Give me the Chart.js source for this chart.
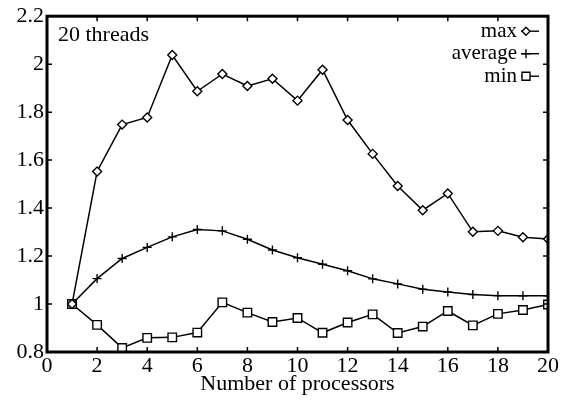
<!DOCTYPE html>
<html lang="en">
<head>
    <meta charset="UTF-8">
    <title>20 threads</title>
    <style>
        body { margin: 0; padding: 0; background: #fff; }
        #grafico { display: block; }
    </style>
</head>
<body>
    <canvas id="grafico" width="572" height="403"></canvas>

    <script src="https://cdn.jsdelivr.net/npm/chart.js"></script>
    <script>
        var processadores = [1, 2, 3, 4, 5, 6, 7, 8, 9, 10, 11, 12, 13, 14, 15, 16, 17, 18, 19, 20];
        var valoresMax = [1.0, 1.553, 1.748, 1.778, 2.038, 1.887, 1.959, 1.909, 1.939, 1.848, 1.977, 1.767, 1.626, 1.492, 1.391, 1.461, 1.301, 1.305, 1.278, 1.271];
        var valoresMedia = [1.0, 1.106, 1.19, 1.236, 1.28, 1.311, 1.305, 1.27, 1.225, 1.193, 1.166, 1.139, 1.105, 1.084, 1.062, 1.05, 1.04, 1.035, 1.034, 1.034];
        var valoresMin = [1.0, 0.913, 0.817, 0.859, 0.861, 0.881, 1.007, 0.964, 0.925, 0.942, 0.88, 0.923, 0.957, 0.879, 0.906, 0.971, 0.911, 0.959, 0.975, 0.998];
        var ticksX = [0, 2, 4, 6, 8, 10, 12, 14, 16, 18, 20];
        var ticksY = [0.8, 1, 1.2, 1.4, 1.6, 1.8, 2, 2.2];
        var nomesSeries = ['max', 'average', 'min'];
        var estilos = ['rectRot', 'cross', 'rect'];

        var fonte = "'Liberation Serif', 'DejaVu Serif', serif";

        function pontos(valores) {
            return processadores.map(function(p, i) { return { x: p, y: valores[i] }; });
        }

        // marcador da legenda, mesmo formato dos pontos
        function desenharMarcador(ctx, estilo, x, y) {
            ctx.beginPath();
            if (estilo === 'rectRot') {
                ctx.moveTo(x - 4, y);
                ctx.lineTo(x, y - 4);
                ctx.lineTo(x + 4, y);
                ctx.lineTo(x, y + 4);
                ctx.closePath();
                ctx.fillStyle = '#fff';
                ctx.fill();
                ctx.stroke();
            } else if (estilo === 'cross') {
                ctx.moveTo(x - 4.5, y);
                ctx.lineTo(x + 4.5, y);
                ctx.moveTo(x, y - 4.5);
                ctx.lineTo(x, y + 4.5);
                ctx.stroke();
            } else {
                ctx.rect(x - 4, y - 4, 8, 8);
                ctx.fillStyle = '#fff';
                ctx.fill();
                ctx.stroke();
            }
        }

        var molduraPlugin = {
            id: 'moldura',
            afterDraw: function(chart) {
                var ctx = chart.ctx;
                var a = chart.chartArea;
                var sx = chart.scales.x;
                var sy = chart.scales.y;
                ctx.save();
                ctx.strokeStyle = '#000';
                ctx.lineWidth = 1.5;
                ticksX.forEach(function(v) {
                    var px = sx.getPixelForValue(v);
                    ctx.beginPath();
                    ctx.moveTo(px, a.bottom);
                    ctx.lineTo(px, a.bottom - 5);
                    ctx.moveTo(px, a.top);
                    ctx.lineTo(px, a.top + 5);
                    ctx.stroke();
                });
                ticksY.forEach(function(v) {
                    var py = sy.getPixelForValue(v);
                    ctx.beginPath();
                    ctx.moveTo(a.left, py);
                    ctx.lineTo(a.left + 5, py);
                    ctx.moveTo(a.right, py);
                    ctx.lineTo(a.right - 5, py);
                    ctx.stroke();
                });
                ctx.lineWidth = 3;
                ctx.strokeRect(a.left, a.top, a.right - a.left, a.bottom - a.top);

                // texto "20 threads"
                ctx.fillStyle = '#000';
                ctx.font = '22px ' + fonte;
                ctx.textAlign = 'left';
                ctx.textBaseline = 'middle';
                ctx.fillText('20 threads', a.left + 11, a.top + 19);

                // legenda
                ctx.font = '21px ' + fonte;
                ctx.textAlign = 'right';
                ctx.lineWidth = 1.4;
                nomesSeries.forEach(function(nome, i) {
                    var y = a.top + 15 + i * 22.5;
                    ctx.fillStyle = '#000';
                    ctx.fillText(nome, a.right - 31, y);
                    ctx.beginPath();
                    ctx.moveTo(a.right - 27, y);
                    ctx.lineTo(a.right - 9, y);
                    ctx.stroke();
                    desenharMarcador(ctx, estilos[i], a.right - 22, y);
                });
                ctx.restore();
            }
        };

        var series = [valoresMax, valoresMedia, valoresMin];
        var datasets = series.map(function(valores, i) {
            return {
                label: nomesSeries[i],
                data: pontos(valores),
                borderColor: '#000',
                backgroundColor: '#fff',
                borderWidth: 1.5,
                pointStyle: estilos[i],
                pointRadius: [4.5, 4.5, 6][i],
                pointBorderWidth: 1.4,
                pointBorderColor: '#000',
                pointBackgroundColor: '#fff',
                tension: 0
            };
        });

        new Chart(document.getElementById('grafico').getContext('2d'), {
            type: 'line',
            data: { datasets: datasets },
            options: {
                responsive: false,
                animation: false,
                layout: { padding: { left: 0, right: 24, top: 14, bottom: 0 } },
                plugins: {
                    legend: { display: false },
                    tooltip: { enabled: false }
                },
                scales: {
                    x: {
                        type: 'linear',
                        min: 0,
                        max: 20,
                        afterBuildTicks: function(scale) {
                            scale.ticks = ticksX.map(function(v) { return { value: v }; });
                        },
                        afterFit: function(scale) { scale.height = 51; },
                        grid: { display: false, drawTicks: false },
                        border: { display: false },
                        ticks: {
                            color: '#000',
                            padding: 1,
                            maxRotation: 0,
                            autoSkip: false,
                            font: { family: fonte, size: 22 },
                            callback: function(v) { return String(v); }
                        },
                        title: {
                            display: true,
                            text: 'Number of processors',
                            color: '#000',
                            font: { family: fonte, size: 22 },
                            padding: { top: 0, bottom: 6 }
                        }
                    },
                    y: {
                        min: 0.8,
                        max: 2.2,
                        afterBuildTicks: function(scale) {
                            scale.ticks = ticksY.map(function(v) { return { value: v }; });
                        },
                        afterFit: function(scale) { scale.width = 47; },
                        grid: { display: false, drawTicks: false },
                        border: { display: false },
                        ticks: {
                            color: '#000',
                            padding: 3,
                            autoSkip: false,
                            font: { family: fonte, size: 22 },
                            callback: function(v) { return String(Math.round(v * 10) / 10); }
                        }
                    }
                }
            },
            plugins: [molduraPlugin]
        });
    </script>
</body>
</html>
